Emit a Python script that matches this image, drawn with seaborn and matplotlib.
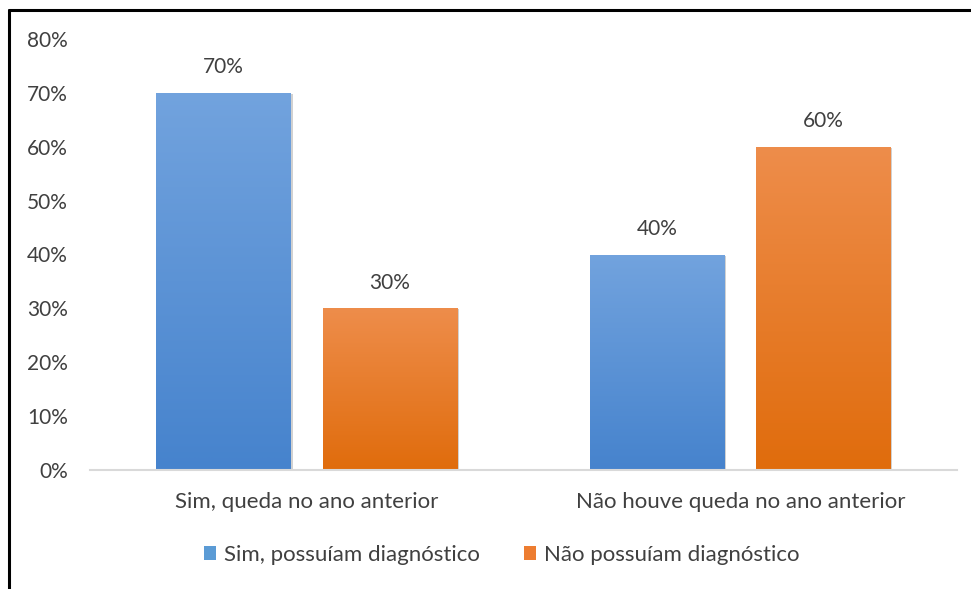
import numpy as np
import pandas as pd
import matplotlib
matplotlib.use("Agg")
import matplotlib.pyplot as plt
import matplotlib.colors as mcolors
from matplotlib.lines import Line2D
from matplotlib.patches import Patch
import seaborn as sns

# Data
categories = ["Sim, queda no ano anterior", "Não houve queda no ano anterior"]
series = ["Sim, possuíam diagnóstico", "Não possuíam diagnóstico"]
sim_diag = [0.70, 0.40]
nao_diag = [0.30, 0.60]
y_ticks = [0.0, 0.1, 0.2, 0.3, 0.4, 0.5, 0.6, 0.7, 0.8]

df = pd.DataFrame({
    "categoria": categories * 2,
    "grupo": [series[0]] * 2 + [series[1]] * 2,
    "valor": sim_diag + nao_diag,
})

base_colors = {series[0]: "#5b9bd5", series[1]: "#ed7d31"}
grad = {
    series[0]: ("#72a3de", "#4683cd"),
    series[1]: ("#ee8d4b", "#e06c0c"),
}

sns.set_theme(style="white")
plt.rcParams["font.family"] = ["Lato", "DejaVu Sans"]

fig = plt.figure(figsize=(9.71, 5.89), dpi=100)
ax = fig.add_axes([90 / 971, 1 - 470 / 589, 867 / 971, (470 - 39) / 589])

sns.barplot(data=df, x="categoria", y="valor", hue="grupo", order=categories,
            hue_order=series, palette=base_colors, width=0.766, gap=0.19,
            ax=ax, legend=False, saturation=1)

# gradient fills and soft shadow on each bar
bars = list(ax.patches)
for i, p in enumerate(bars):
    grp = series[i // len(categories)]
    top, bot = grad[grp]
    x0, y0 = p.get_x(), p.get_y()
    w, h = p.get_width(), p.get_height()
    shadow = plt.Rectangle((x0 + 0.004, y0), w, h - 0.002, facecolor="#000000",
                           alpha=0.18, edgecolor="none", zorder=1.5)
    ax.add_patch(shadow)
    cmap = mcolors.LinearSegmentedColormap.from_list("g", [bot, top])
    img = ax.imshow(np.linspace(0, 1, 256).reshape(-1, 1), cmap=cmap,
                    aspect="auto", origin="lower",
                    extent=[x0, x0 + w, y0, y0 + h], zorder=2,
                    interpolation="bicubic")
    img.set_clip_path(p)
    p.set_zorder(2)
    p.set_edgecolor("none")
    ax.text(x0 + w / 2, y0 + h + 0.048, f"{h:.0%}", ha="center", va="center",
            fontsize=15, color="#404040", zorder=3)

ax.set_xlim(-0.5, 1.5)
ax.set_ylim(0, 0.8)
ax.set_yticks(y_ticks)
ax.set_yticklabels([f"{t:.0%}" for t in y_ticks], fontsize=15, color="#404040")
ax.tick_params(axis="y", length=0, pad=16)
ax.tick_params(axis="x", length=0, pad=16, labelsize=16, labelcolor="#404040")
ax.set_xlabel("")
ax.set_ylabel("")
for side in ["top", "right", "left"]:
    ax.spines[side].set_visible(False)
ax.spines["bottom"].set_color("#d9d9d9")
ax.spines["bottom"].set_linewidth(1.5)
ax.grid(False)

handles = [Patch(facecolor=base_colors[s], edgecolor="none") for s in series]
fig.legend(handles, series, loc="center",
           bbox_to_anchor=(0.5 + 16 / 971, 1 - 555 / 589),
           ncol=2, frameon=False, fontsize=16, handlelength=0.55,
           handleheight=0.55, handletextpad=0.35, columnspacing=2.0,
           labelcolor="#404040")

# frame lines on the top and left edges
fig.add_artist(Line2D([9 / 971, 1], [1 - 10 / 589, 1 - 10 / 589],
                      transform=fig.transFigure, color="black", lw=2.2))
fig.add_artist(Line2D([9 / 971, 9 / 971], [0, 1 - 10 / 589],
                      transform=fig.transFigure, color="black", lw=2.2))

fig.savefig("out.png", dpi=100)
